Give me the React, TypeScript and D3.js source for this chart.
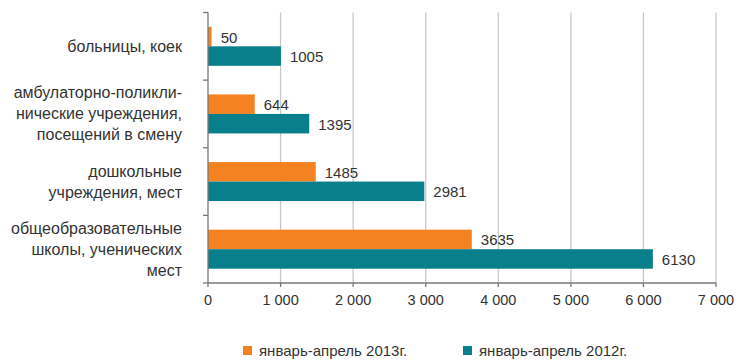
import React from "react";
import * as d3 from "d3";

const categories: string[][] = [
  ["больницы, коек"],
  ["амбулаторно-поликли-", "нические учреждения,", "посещений в смену"],
  ["дошкольные", "учреждения, мест"],
  ["общеобразовательные", "школы, ученических", "мест"],
];
const values2013: number[] = [50, 644, 1485, 3635];
const values2012: number[] = [1005, 1395, 2981, 6130];
const seriesNames: string[] = ["январь-апрель 2013г.", "январь-апрель 2012г."];
const xTicks: number[] = [0, 1000, 2000, 3000, 4000, 5000, 6000, 7000];
const tickLabels: string[] = ["0", "1 000", "2 000", "3 000", "4 000", "5 000", "6 000", "7 000"];

const ORANGE = "#F58220";
const TEAL = "#0A7F8C";

export default function App() {
  const W = 740, H = 360;
  const left = 208, right = 716, top = 12.5, bottom = 283;
  const x = d3.scaleLinear().domain([0, 7000]).range([left, right]);
  const y = d3.scaleBand<number>().domain(d3.range(categories.length)).range([top, bottom]);
  const barH = 19.5;
  const font = "'Liberation Sans', Arial, sans-serif";
  const series = [values2013, values2012];
  const colors = [ORANGE, TEAL];
  const lineH = 21;

  return (
    <svg width={W} height={H} style={{ position: "absolute", left: 0, top: 0 }} fontFamily={font}>
      <rect width={W} height={H} fill="#fff" />
      {xTicks.slice(1).map((t) => (
        <line key={t} x1={x(t)} x2={x(t)} y1={top} y2={bottom} stroke="#c8c8c8" strokeWidth={1.3} />
      ))}
      {categories.map((_, i) => {
        const c = (y(i) as number) + y.bandwidth() / 2;
        return series.map((s, j) => {
          const by = c - barH + j * barH;
          return (
            <g key={`${i}-${j}`}>
              <rect x={x(0)} y={by} width={x(s[i]) - x(0)} height={barH} fill={colors[j]} />
              <text x={x(s[i]) + 9} y={by + barH / 2 + 6} fontSize={15} fill="#333">
                {s[i]}
              </text>
            </g>
          );
        });
      })}
      {/* y axis */}
      <line x1={left} x2={left} y1={top} y2={bottom} stroke="#777" strokeWidth={1.3} />
      {d3.range(categories.length + 1).map((i) => {
        const yy = top + i * y.step();
        return <line key={i} x1={left - 5} x2={left} y1={yy} y2={yy} stroke="#777" strokeWidth={1.3} />;
      })}
      {/* x axis */}
      <line x1={left} x2={right} y1={bottom} y2={bottom} stroke="#777" strokeWidth={1.3} />
      {xTicks.map((t, i) => (
        <g key={t}>
          <line x1={x(t)} x2={x(t)} y1={bottom} y2={bottom + 4} stroke="#777" strokeWidth={1.3} />
          <text x={x(t)} y={bottom + 22} fontSize={14.5} fill="#333" textAnchor="middle">
            {tickLabels[i]}
          </text>
        </g>
      ))}
      {/* category labels */}
      {categories.map((lines, i) => {
        const c = (y(i) as number) + y.bandwidth() / 2;
        const start = c - ((lines.length - 1) * lineH) / 2;
        return (
          <text key={i} fontSize={16} fill="#333" textAnchor="end">
            {lines.map((l, k) => (
              <tspan key={k} x={182} y={start + k * lineH + 5.5}>
                {l}
              </tspan>
            ))}
          </text>
        );
      })}
      {/* legend */}
      {seriesNames.map((n, i) => {
        const lx = i === 0 ? 243 : 463;
        return (
          <g key={n}>
            <rect x={lx} y={346} width={9} height={9} fill={colors[i]} />
            <text x={lx + 16} y={356} fontSize={15} fill="#333">
              {n}
            </text>
          </g>
        );
      })}
    </svg>
  );
}
